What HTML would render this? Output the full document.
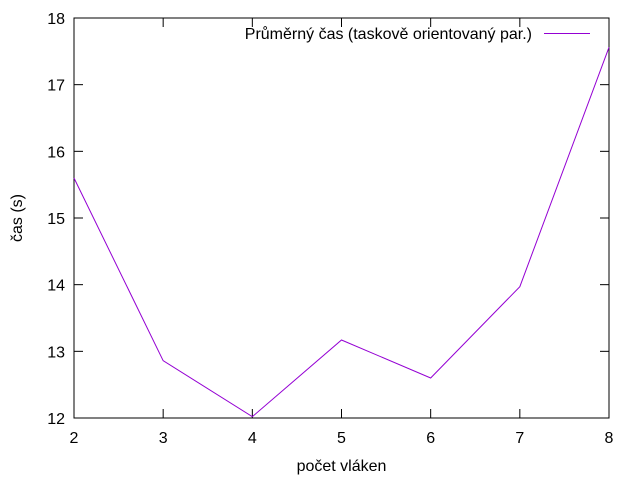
<!DOCTYPE html>
<html><head><meta charset="utf-8"><style>
html,body{margin:0;padding:0;background:#fff;}
svg{display:block;font-family:"Liberation Sans",sans-serif;font-size:16px;}
</style></head><body>
<svg id="chart" width="640" height="480">
<g id="axes"></g>
<g id="series"></g>
</svg>
<script>
const categories=[2,3,4,5,6,7,8];
const seriesValues=[15.6,12.86,12.02,13.17,12.6,13.97,17.56];
const yTicks=[12,13,14,15,16,17,18];
const xTicks=[2,3,4,5,6,7,8];
const L=74,R=609,T=18,B=418;
const xMin=2,xMax=8,yMin=12,yMax=18;
function xs(v){return L+(v-xMin)/(xMax-xMin)*(R-L);}
function ys(v){return B-(v-yMin)/(yMax-yMin)*(B-T);}
const NS="http://www.w3.org/2000/svg";
const axes=document.getElementById('axes');
const series=document.getElementById('series');
function mk(tag,attrs,parent){const e=document.createElementNS(NS,tag);for(const k in attrs)e.setAttribute(k,attrs[k]);parent.appendChild(e);return e;}
const frame=mk('rect',{x:L,y:T,width:R-L,height:B-T,fill:'none',stroke:'#000','stroke-width':1},axes);


yTicks.forEach(v=>{
  const y=ys(v);
  const t1=mk('line',{x1:L,x2:L+9,y1:y,y2:y,stroke:'#000'},axes);
  
  
  const t2=mk('line',{x1:R,x2:R-9,y1:y,y2:y,stroke:'#000'},axes);
  
  
  const tx=mk('text',{x:L-9,y:y+6,'text-anchor':'end'},axes);
  tx.textContent=v;
  
  
});
xTicks.forEach(v=>{
  const x=xs(v);
  const t1=mk('line',{x1:x,x2:x,y1:B,y2:B-9,stroke:'#000'},axes);
  
  
  const t2=mk('line',{x1:x,x2:x,y1:T,y2:T+9,stroke:'#000'},axes);
  
  
  const tx=mk('text',{x:x,y:B+25,'text-anchor':'middle'},axes);
  tx.textContent=v;
  
  
});
const xt=mk('text',{x:(L+R)/2,y:471,'text-anchor':'middle'},axes);
xt.textContent='počet vláken';


const yt=mk('text',{x:22,y:(T+B)/2,'text-anchor':'middle',transform:'rotate(-90 22 '+((T+B)/2)+')'},axes);
yt.textContent='čas (s)';


const pts=categories.map((c,i)=>xs(c)+','+ys(seriesValues[i])).join(' ');
const pl=mk('polyline',{points:pts,fill:'none',stroke:'#9400d3','stroke-width':1},series);


const lt=mk('text',{x:532,y:39,'text-anchor':'end'},series);
lt.textContent='Průměrný čas (taskově orientovaný par.)';


const ll=mk('line',{x1:544,x2:590,y1:33.5,y2:33.5,stroke:'#9400d3'},series);


</script>
</body></html>
